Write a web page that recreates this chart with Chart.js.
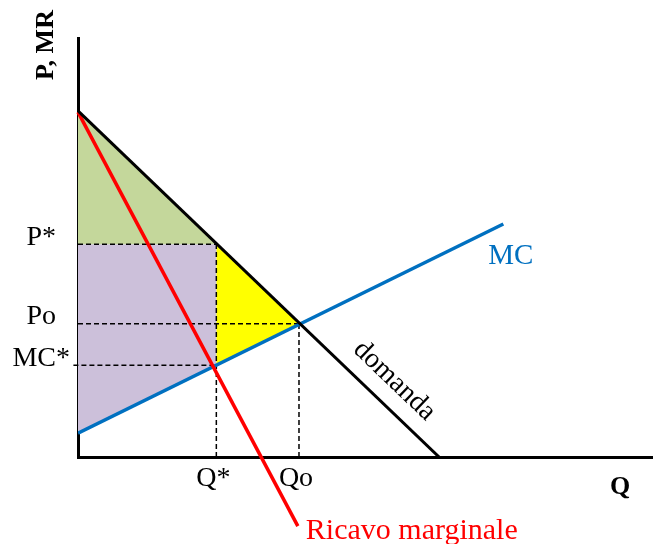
<!DOCTYPE html>
<html>
<head>
<meta charset="utf-8">
<script src="https://cdn.jsdelivr.net/npm/chart.js@4/dist/chart.umd.min.js"></script>
<style>
    body { margin: 0; background: white; }
    #wrap { width: 656px; height: 544px; }
</style>
</head>
<body>
<div id="wrap"><canvas id="chart"></canvas></div>
<script>
// quantities and prices (arbitrary units, 0..100)
const qTicks = [24.1, 38.5];
const qLabels = ["Q*", "Qo"];
const pTicks = [50.8, 31.8, 21.9];
const pLabels = ["P*", "Po", "MC*"];

const demandQ = [0, 62.9];
const demandP = [82.6, 0];
const mrQ = [0, 38.3];
const mrP = [82.3, -16.5];
const mcQ = [0, 74.1];
const mcP = [5.7, 55.6];

const serif = "'Liberation Serif', 'Times New Roman', serif";
const qStar = qTicks[0], qO = qTicks[1];
const pStar = pTicks[0], pO = pTicks[1], mcStar = pTicks[2];

function pts(xs, ys) {
    return xs.map((x, i) => ({ x: x, y: ys[i] }));
}

function line(data, color, width, order, extra) {
    return Object.assign({
        data: data,
        showLine: true,
        borderColor: color,
        borderWidth: width,
        pointRadius: 0,
        tension: 0,
        fill: false,
        order: order,
    }, extra || {});
}

function area(data, color) {
    return {
        data: data,
        showLine: true,
        borderWidth: 0,
        borderColor: "rgba(0,0,0,0)",
        backgroundColor: color,
        pointRadius: 0,
        fill: "shape",
        order: 3,
    };
}

const dash = { borderDash: [5, 3] };

const datasets = [
    line(pts(demandQ, demandP), "#000000", 3, 0),
    line(pts(mrQ, mrP), "#ff0000", 3.5, 0, { clip: false }),
    line(pts(mcQ, mcP), "#0070c0", 3.5, 0),
    line(pts([0, qStar], [pStar, pStar]), "#000000", 1.5, 1, dash),
    line(pts([qStar, qStar], [0, pStar]), "#000000", 1.5, 1, dash),
    line(pts([0, qO], [pO, pO]), "#000000", 1.5, 1, dash),
    line(pts([qO, qO], [0, pO]), "#000000", 1.5, 1, dash),
    line(pts([-0.8, qStar], [mcStar, mcStar]), "#000000", 1.5, 1, Object.assign({ clip: false }, dash)),
    area(pts([0, qStar, 0, 0], [demandP[0], pStar, pStar, demandP[0]]), "#c4d79b"),
    area(pts([0, qStar, qStar, 0, 0], [pStar, pStar, mcStar, mcP[0], pStar]), "#ccc0da"),
    area(pts([qStar, qO, qStar, qStar], [pStar, pO, mcStar, pStar]), "#ffff00"),
];

const textPlugin = {
    id: "texts",
    afterDatasetsDraw(chart) {
        const ctx = chart.ctx;
        const x = chart.scales.x, y = chart.scales.y;
        const area = chart.chartArea;
        ctx.save();

        // axis names
        ctx.fillStyle = "#000";
        ctx.font = "bold 26px " + serif;
        ctx.save();
        ctx.translate(53, 45);
        ctx.rotate(-Math.PI / 2);
        ctx.textAlign = "center";
        ctx.textBaseline = "alphabetic";
        ctx.fillText("P, MR", 0, 0);
        ctx.restore();
        ctx.textAlign = "center";
        ctx.fillText("Q", area.right - 32, 494);

        // MC label
        ctx.font = "29px " + serif;
        ctx.fillStyle = "#0070c0";
        ctx.textAlign = "left";
        ctx.fillText("MC", x.getPixelForValue(mcQ[1]) - 15, y.getPixelForValue(mcP[1]) + 40);

        // marginal revenue label
        ctx.font = "30px " + serif;
        ctx.fillStyle = "#ff0000";
        ctx.fillText("Ricavo marginale", x.getPixelForValue(mrQ[1]) + 8, y.getPixelForValue(mrP[1]) + 13);

        // demand label along the line
        const x0 = x.getPixelForValue(demandQ[0]), y0 = y.getPixelForValue(demandP[0]);
        const x1 = x.getPixelForValue(demandQ[1]), y1 = y.getPixelForValue(demandP[1]);
        const t = 0.83;
        ctx.translate(x0 + (x1 - x0) * t, y0 + (y1 - y0) * t);
        ctx.rotate(Math.atan2(y1 - y0, x1 - x0));
        ctx.fillStyle = "#000";
        ctx.font = "28px " + serif;
        ctx.textAlign = "center";
        ctx.textBaseline = "middle";
        ctx.fillText("domanda", 0, -24);
        ctx.restore();
    },
};

new Chart(document.getElementById("chart").getContext("2d"), {
    type: "scatter",
    data: { datasets: datasets },
    options: {
        responsive: true,
        maintainAspectRatio: false,
        animation: false,
        layout: { padding: { top: 38, right: 4, left: 0, bottom: 0 } },
        plugins: {
            legend: { display: false },
            tooltip: { enabled: false },
        },
        scales: {
            x: {
                type: "linear",
                min: 0,
                max: 100,
                grid: { display: false, drawTicks: false },
                border: { display: true, color: "#000", width: 3 },
                afterBuildTicks: (s) => { s.ticks = qTicks.map((v) => ({ value: v })); },
                afterFit: (s) => { s.height = 87; },
                ticks: {
                    color: "#000",
                    font: { family: serif, size: 28 },
                    padding: 5,
                    labelOffset: -3,
                    maxRotation: 0,
                    autoSkip: false,
                    callback: (v) => qLabels[qTicks.indexOf(v)],
                },
            },
            y: {
                type: "linear",
                min: 0,
                max: 100,
                grid: { display: false, drawTicks: false },
                border: { display: true, color: "#000", width: 3 },
                afterBuildTicks: (s) => { s.ticks = pTicks.map((v) => ({ value: v })); },
                afterFit: (s) => { s.width = 78; },
                ticks: {
                    color: "#000",
                    font: { family: serif, size: 28 },
                    padding: 8,
                    crossAlign: "center",
                    labelOffset: -7,
                    autoSkip: false,
                    callback: (v) => pLabels[pTicks.indexOf(v)],
                },
            },
        },
    },
    plugins: [textPlugin],
});
</script>
</body>
</html>
